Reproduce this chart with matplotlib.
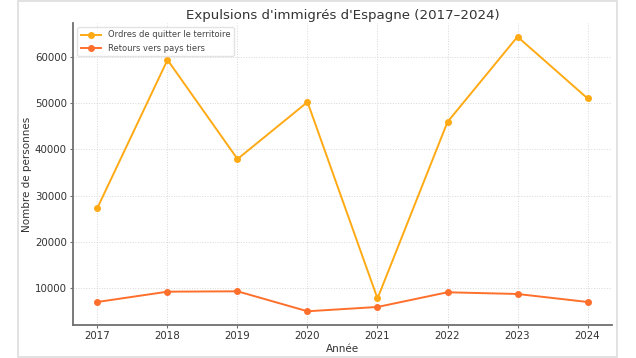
import matplotlib
matplotlib.use("Agg")
import matplotlib.pyplot as plt
from matplotlib.patches import Rectangle

# data
years = [2017, 2018, 2019, 2020, 2021, 2022, 2023, 2024]
ordres = [27400, 59300, 37900, 50200, 7800, 45900, 64300, 51000]
retours = [7050, 9270, 9350, 5040, 5970, 9140, 8770, 7050]

fig = plt.figure(figsize=(6.36, 3.58), dpi=100)
# light frame around the chart
fig.patches.append(Rectangle((18 / 636, 1 / 358), 599 / 636, 356 / 358,
                             transform=fig.transFigure, fill=False,
                             edgecolor="#dddddd", linewidth=1.2))

ax = fig.add_axes([73 / 636, 33 / 358, 539 / 636, 302 / 358])
ax.plot(years, ordres, color="#FFAA14", marker="o", markersize=4,
        linewidth=1.4, label="Ordres de quitter le territoire")
ax.plot(years, retours, color="#FF6F2C", marker="o", markersize=4,
        linewidth=1.4, label="Retours vers pays tiers")

ax.set_title("Expulsions d'immigrés d'Espagne (2017–2024)", fontsize=9.6,
             color="#333333", pad=3)
ax.set_xlabel("Année", fontsize=7.5, color="#333333", labelpad=2)
ax.set_ylabel("Nombre de personnes", fontsize=7.5, color="#333333",
              labelpad=2)
ax.set_xticks(years)

for side in ["top", "right"]:
    ax.spines[side].set_visible(False)
for side in ["left", "bottom"]:
    ax.spines[side].set_color("#707070")
    ax.spines[side].set_linewidth(1.3)
ax.tick_params(labelsize=7.4, labelcolor="#333333", color="#707070",
               length=2.5, width=0.8, pad=2)
ax.grid(True, linestyle=":", color="#d8d8d8", linewidth=0.7)

leg = ax.legend(loc="upper left", fontsize=6, frameon=True,
                borderpad=0.4, handlelength=2.5, labelspacing=0.5)
leg.get_frame().set_edgecolor("#dddddd")
for t in leg.get_texts():
    t.set_color("#444444")

fig.savefig("out.png", dpi=100)
